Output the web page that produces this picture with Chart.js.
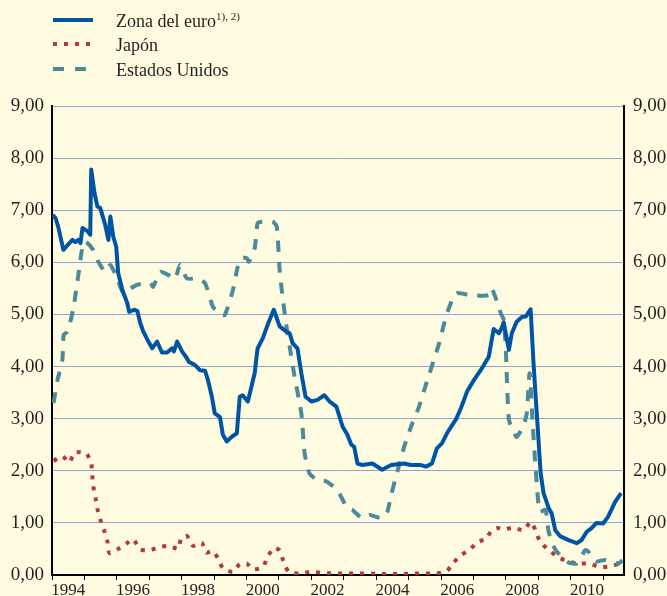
<!DOCTYPE html>
<html>
<head>
<meta charset="utf-8">
<script src="https://cdn.jsdelivr.net/npm/chart.js@4.4.1/dist/chart.umd.min.js"></script>
<style>
  body { margin: 0; background: #fffbe1; }
  #wrap { position: relative; width: 667px; height: 596px; overflow: hidden; }
  #grafica { position: absolute; left: 0; top: 0; }
  .leyenda { position: absolute; left: 116px; font: 18px "Liberation Serif", serif; line-height: 18px; color: #231f20; white-space: nowrap; }
  .leyenda sup { font-size: 11px; vertical-align: 7px; line-height: 0; }
  .muestra { position: absolute; left: 53px; }
</style>
</head>
<body>
<div id="wrap">
  <canvas id="grafica" width="667" height="596"></canvas>
  <div class="muestra" style="top:18px;width:40px;height:4px;background:#0054a4"></div>
  <div class="leyenda" style="top:12px">Zona del euro<sup>1), 2)</sup></div>
  <div class="muestra" style="top:42px;width:38px;height:4px;background:repeating-linear-gradient(to right,#b3393a 0 4px,transparent 4px 11px)"></div>
  <div class="leyenda" style="top:36px">Japón</div>
  <div class="muestra" style="top:67px;width:35px;height:4px;background:repeating-linear-gradient(to right,#4a8a9a 0 11px,transparent 11px 22px)"></div>
  <div class="leyenda" style="top:61px">Estados Unidos</div>
</div>
<script>
// datos (año decimal, porcentaje)
const euroAnios = [1994.02, 1994.11, 1994.20, 1994.35, 1994.48, 1994.63, 1994.72, 1994.81, 1994.88, 1994.94,
  1995.09, 1995.18, 1995.21, 1995.31, 1995.40, 1995.49, 1995.64, 1995.74, 1995.80, 1995.89, 1995.98,
  1996.04, 1996.17, 1996.32, 1996.38, 1996.53, 1996.63, 1996.72, 1996.81, 1996.93, 1997.09, 1997.24,
  1997.39, 1997.55, 1997.70, 1997.76, 1997.86, 1998.01, 1998.16, 1998.22, 1998.41, 1998.56, 1998.72,
  1998.81, 1998.93, 1999.02, 1999.18, 1999.27, 1999.39, 1999.54, 1999.70, 1999.79, 1999.88, 2000.04,
  2000.25, 2000.34, 2000.50, 2000.65, 2000.84, 2001.02, 2001.23, 2001.33, 2001.42, 2001.57, 2001.69,
  2001.82, 2002.00, 2002.19, 2002.40, 2002.56, 2002.77, 2002.96, 2003.11, 2003.23, 2003.32, 2003.42,
  2003.57, 2003.88, 2004.18, 2004.46, 2004.86, 2005.07, 2005.38, 2005.53, 2005.72, 2005.87, 2006.03,
  2006.18, 2006.46, 2006.61, 2006.80, 2007.01, 2007.22, 2007.47, 2007.62, 2007.78, 2007.87, 2007.93,
  2008.09, 2008.18, 2008.33, 2008.49, 2008.61, 2008.76, 2008.85, 2008.95, 2009.07, 2009.16, 2009.32,
  2009.41, 2009.52, 2009.68, 2009.93, 2010.18, 2010.33, 2010.49, 2010.64, 2010.79, 2011.00, 2011.15,
  2011.37, 2011.55]
const euroValores = [6.91, 6.85, 6.66, 6.24, 6.33, 6.43, 6.39, 6.43, 6.37, 6.66,
  6.60, 6.53, 7.78, 7.33, 7.07, 7.04, 6.72, 6.43, 6.88, 6.49, 6.30,
  5.80, 5.47, 5.22, 5.05, 5.09, 5.07, 4.84, 4.68, 4.53, 4.35, 4.48,
  4.27, 4.27, 4.35, 4.29, 4.48, 4.29, 4.16, 4.09, 4.03, 3.93, 3.92,
  3.74, 3.42, 3.10, 3.03, 2.69, 2.56, 2.65, 2.72, 3.42, 3.45, 3.33,
  3.87, 4.35, 4.54, 4.80, 5.09, 4.77, 4.67, 4.64, 4.45, 4.35, 3.87,
  3.42, 3.33, 3.36, 3.45, 3.33, 3.23, 2.85, 2.69, 2.50, 2.46, 2.14,
  2.11, 2.14, 2.02, 2.11, 2.14, 2.11, 2.11, 2.08, 2.14, 2.43, 2.53,
  2.72, 2.99, 3.20, 3.52, 3.74, 3.93, 4.19, 4.72, 4.64, 4.74, 4.85,
  4.32, 4.64, 4.86, 4.95, 4.96, 5.10, 4.06, 3.10, 1.95, 1.57, 1.28,
  1.18, 0.86, 0.74, 0.67, 0.61, 0.67, 0.83, 0.90, 1.00, 0.99, 1.12,
  1.41, 1.57]

const japonAnios = [1994.05, 1994.32, 1994.54, 1994.69, 1995.06, 1995.21, 1995.24, 1995.27, 1995.34, 1995.40,
  1995.49, 1995.61, 1995.71, 1995.77, 1996.04, 1996.29, 1996.50, 1996.72, 1997.00, 1997.33, 1997.64,
  1997.89, 1997.98, 1998.16, 1998.35, 1998.62, 1998.75, 1998.96, 1999.12, 1999.27, 1999.58, 1999.79,
  2000.01, 2000.19, 2000.50, 2000.65, 2000.84, 2001.02, 2001.14, 2001.30, 2001.63, 2002.00, 2002.34,
  2002.68, 2003.05, 2003.39, 2003.73, 2004.09, 2004.46, 2004.80, 2005.17, 2005.50, 2005.84, 2006.18,
  2006.37, 2006.61, 2006.89, 2007.13, 2007.38, 2007.56, 2007.75, 2007.87, 2007.99, 2008.24, 2008.55,
  2008.76, 2008.92, 2009.04, 2009.28, 2009.59, 2009.87, 2010.21, 2010.57, 2010.91, 2011.25, 2011.52]
const japonValores = [2.19, 2.28, 2.16, 2.35, 2.33, 2.14, 1.92, 1.71, 1.49, 1.27,
  1.06, 0.85, 0.64, 0.42, 0.50, 0.60, 0.69, 0.49, 0.47, 0.54, 0.56,
  0.50, 0.70, 0.75, 0.56, 0.62, 0.43, 0.46, 0.32, 0.13, 0.06, 0.21,
  0.22, 0.11, 0.15, 0.35, 0.52, 0.47, 0.26, 0.06, 0.03, 0.06, 0.04,
  0.03, 0.03, 0.03, 0.03, 0.02, 0.02, 0.02, 0.03, 0.03, 0.03, 0.08,
  0.23, 0.38, 0.49, 0.64, 0.69, 0.86, 0.90, 0.88, 0.88, 0.91, 0.86,
  1.02, 0.85, 0.65, 0.50, 0.35, 0.27, 0.22, 0.22, 0.15, 0.17, 0.22]

const eeuuAnios = [1994.05, 1994.17, 1994.32, 1994.36, 1994.48, 1994.66, 1994.82, 1994.94, 1995.03, 1995.27,
  1995.43, 1995.64, 1995.80, 1996.01, 1996.20, 1996.35, 1996.63, 1997.03, 1997.12, 1997.33, 1997.58,
  1997.79, 1997.95, 1998.16, 1998.47, 1998.72, 1998.96, 1999.18, 1999.33, 1999.58, 1999.73, 1999.85,
  2000.01, 2000.07, 2000.25, 2000.34, 2000.47, 2000.80, 2000.93, 2001.02, 2001.11, 2001.23, 2001.33,
  2001.48, 2001.69, 2001.79, 2001.94, 2002.19, 2002.45, 2002.80, 2003.11, 2003.26, 2003.57, 2003.79,
  2004.18, 2004.34, 2004.46, 2004.65, 2004.86, 2005.11, 2005.32, 2005.53, 2005.94, 2006.15, 2006.40,
  2006.49, 2006.95, 2007.47, 2007.56, 2007.72, 2007.84, 2007.93, 2007.99, 2008.09, 2008.24, 2008.33,
  2008.55, 2008.64, 2008.73, 2008.82, 2008.92, 2009.04, 2009.22, 2009.32, 2009.53, 2009.93, 2010.18,
  2010.45, 2010.54, 2010.76, 2011.07, 2011.47, 2011.59]
const eeuuValores = [3.30, 3.74, 4.13, 4.61, 4.67, 5.12, 5.79, 6.30, 6.40, 6.24,
  6.01, 5.82, 5.95, 5.69, 5.41, 5.47, 5.57, 5.60, 5.53, 5.82, 5.76,
  5.68, 5.95, 5.69, 5.69, 5.60, 5.15, 5.00, 4.99, 5.47, 5.92, 6.08,
  6.08, 6.01, 6.27, 6.75, 6.78, 6.78, 6.69, 5.85, 5.34, 4.77, 4.38,
  3.81, 3.10, 2.34, 1.95, 1.82, 1.80, 1.63, 1.28, 1.25, 1.09, 1.15,
  1.09, 1.21, 1.54, 1.98, 2.46, 2.91, 3.23, 3.65, 4.45, 4.96, 5.37,
  5.41, 5.37, 5.37, 5.50, 5.25, 5.02, 4.90, 4.40, 2.98, 2.75, 2.65,
  2.88, 3.10, 3.87, 2.95, 2.00, 1.21, 1.25, 0.82, 0.48, 0.24, 0.22,
  0.48, 0.45, 0.26, 0.29, 0.22, 0.28]

const anioInicio = 1994
const anioFin = 2011.64
const etiquetasAnios = [1994, 1996, 1998, 2000, 2002, 2004, 2006, 2008, 2010]

const fuente = '"Liberation Serif", serif'
const colorTexto = '#231f20'

const juntar = (xs, ys) => xs.map((x, i) => ({ x: x, y: ys[i] }))

const formatoEje = v => v.toFixed(2).replace('.', ',')

const ejeY = (posicion, ancho, relleno, conRejilla) => ({
  position: posicion,
  min: 0,
  max: 9,
  border: { display: true, color: '#000', width: 2 },
  grid: { display: conRejilla, drawOnChartArea: conRejilla, drawTicks: false, color: '#8ea6d6', lineWidth: 1 },
  ticks: { stepSize: 1, padding: relleno, color: colorTexto, font: { family: fuente, size: 19 }, callback: formatoEje },
  afterFit: escala => { escala.width = ancho }
})

const grafico = new Chart(document.querySelector('#grafica'), {
  type: 'line',
  data: {
    datasets: [
      {
        label: 'Zona del euro',
        data: juntar(euroAnios, euroValores),
        borderColor: '#0054a4',
        borderWidth: 4,
        borderJoinStyle: 'round',
        pointRadius: 0,
        tension: 0
      },
      {
        label: 'Estados Unidos',
        data: juntar(eeuuAnios, eeuuValores),
        borderColor: '#4a8a9a',
        borderWidth: 4,
        borderDash: [11, 10],
        pointRadius: 0,
        tension: 0.2
      },
      {
        label: 'Japón',
        data: juntar(japonAnios, japonValores),
        borderColor: '#b3393a',
        borderWidth: 4,
        borderDash: [4, 7],
        pointRadius: 0,
        tension: 0.2
      }
    ]
  },
  options: {
    responsive: false,
    devicePixelRatio: 1,
    animation: false,
    layout: { padding: { top: 106, left: 0, right: 0, bottom: 0 } },
    plugins: { legend: { display: false }, tooltip: { enabled: false } },
    scales: {
      x: {
        type: 'linear',
        position: 'bottom',
        min: anioInicio,
        max: anioFin,
        border: { display: true, color: '#000', width: 2 },
        grid: {
          drawOnChartArea: false,
          drawTicks: true,
          tickLength: 5,
          lineWidth: 1,
          color: ctx => (ctx.tick && Number.isInteger(ctx.tick.value)) ? '#000' : 'rgba(0,0,0,0)'
        },
        afterBuildTicks: escala => {
          const ticks = []
          for (let a = 1994; a <= 2011; a++) ticks.push({ value: a })
          etiquetasAnios.forEach(a => ticks.push({ value: a + 0.5 }))
          ticks.sort((p, q) => p.value - q.value)
          escala.ticks = ticks
        },
        ticks: {
          autoSkip: false,
          maxRotation: 0,
          padding: 0,
          color: colorTexto,
          font: { family: fuente, size: 17 },
          callback: v => Number.isInteger(v) ? '' : String(v - 0.5)
        },
        afterFit: escala => { escala.height = 21 }
      },
      y: ejeY('left', 52, 8, true),
      y2: ejeY('right', 43, 9, false)
    }
  }
})
</script>
</body>
</html>
